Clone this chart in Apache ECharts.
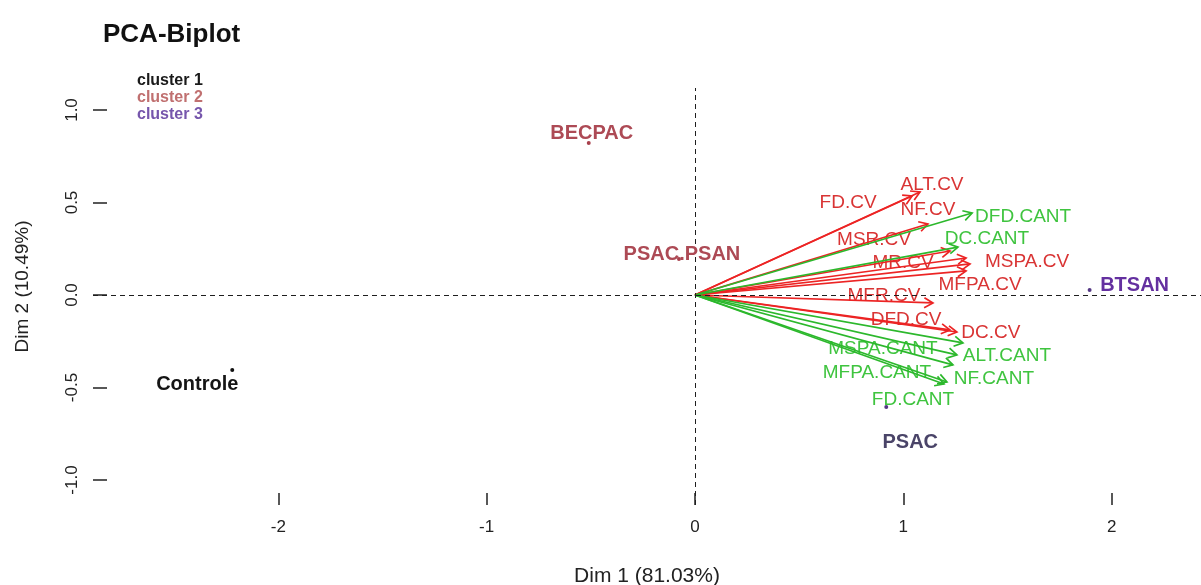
<!DOCTYPE html>
<html>
<head>
<meta charset="utf-8">
<script src="https://cdn.jsdelivr.net/npm/echarts@6/dist/echarts.min.js"></script>
<style>
  html, body { margin: 0; padding: 0; background: #ffffff; }
  #chart { width: 1201px; height: 585px; }
</style>
</head>
<body>
<div id="chart"></div>
<script>
// Variable loadings (arrows) on the first two principal dimensions
const variableNames = ['ALT.CV', 'FD.CV', 'NF.CV', 'MSR.CV', 'MR.CV', 'MSPA.CV', 'MFPA.CV', 'MFR.CV', 'DFD.CV', 'DC.CV',
  'DFD.CANT', 'DC.CANT', 'MSPA.CANT', 'ALT.CANT', 'MFPA.CANT', 'NF.CANT', 'FD.CANT'];
const variableDim1 = [1.080, 1.042, 1.118, 1.224, 1.301, 1.320, 1.301, 1.142, 1.224, 1.257,
  1.330, 1.262, 1.286, 1.257, 1.238, 1.209, 1.195];
const variableDim2 = [0.557, 0.535, 0.384, 0.238, 0.200, 0.168, 0.130, -0.043, -0.189, -0.200,
  0.443, 0.259, -0.259, -0.324, -0.378, -0.470, -0.481];
const variableGroup = ['CV', 'CV', 'CV', 'CV', 'CV', 'CV', 'CV', 'CV', 'CV', 'CV',
  'CANT', 'CANT', 'CANT', 'CANT', 'CANT', 'CANT', 'CANT'];

// Individuals (treatments) and their cluster membership
const individualNames = ['Controle', 'BECPAC', 'PSAC.PSAN', 'BTSAN', 'PSAC'];
const individualDim1 = [-2.221, -0.510, -0.077, 1.894, 0.918];
const individualDim2 = [-0.405, 0.822, 0.195, 0.027, -0.605];
const individualCluster = [1, 2, 2, 3, 3];
const clusterNames = ['cluster 1', 'cluster 2', 'cluster 3'];

// Axis ticks
const dim1Ticks = [-2, -1, 0, 1, 2];
const dim2Ticks = [-1, -0.5, 0, 0.5, 1];

// ---- styling / layout ----
const FONT = '"Liberation Sans", Arial, sans-serif';
const arrowColor = { CV: '#ec2424', CANT: '#2cb82c' };
const arrowLabelColor = { CV: '#d93434', CANT: '#3fc43f' };
const clusterPointColor = ['#111111', '#a8404c', '#553884'];
const clusterLegendColor = ['#1a1a1a', '#c07070', '#7656ac'];
const individualLabelColor = { 'Controle': '#151515', 'BECPAC': '#ad4a55', 'PSAC.PSAN': '#ad4a55', 'BTSAN': '#6430a0', 'PSAC': '#4a4468' };
// label placement relative to the arrow tip / point (pixels)
const variableLabelShift = {
  'ALT.CV': [12, -7], 'FD.CV': [-64, 7], 'NF.CV': [0, -14], 'MSR.CV': [-76, -11], 'MR.CV': [-63, 5],
  'MSPA.CV': [57, -2], 'MFPA.CV': [14, 14], 'MFR.CV': [-49, -7], 'DFD.CV': [-44, -10], 'DC.CV': [34, 1],
  'DFD.CANT': [51, 4], 'DC.CANT': [29, -8], 'MSPA.CANT': [-80, 6], 'ALT.CANT': [50, 1],
  'MFPA.CANT': [-76, 8], 'NF.CANT': [47, -3], 'FD.CANT': [-31, 16]
};
const individualLabelShift = {
  'Controle': [-35, 15], 'BECPAC': [3, -9], 'PSAC.PSAN': [3, -4], 'BTSAN': [45, -5], 'PSAC': [24, 36]
};

const chart = echarts.init(document.getElementById('chart'), null, { renderer: 'canvas' });

const clusterSeries = clusterNames.map((cname, ci) => ({
  name: cname,
  type: 'scatter',
  symbol: 'circle',
  symbolSize: 4,
  itemStyle: { color: clusterPointColor[ci], opacity: 1 },
  z: 5,
  data: individualNames
    .map((n, i) => ({ n, i }))
    .filter(d => individualCluster[d.i] === ci + 1)
    .map(d => ({
      name: d.n,
      value: [individualDim1[d.i], individualDim2[d.i]],
      label: {
        show: true,
        position: 'inside',
        formatter: '{b}',
        offset: individualLabelShift[d.n],
        color: individualLabelColor[d.n],
        fontFamily: FONT,
        fontWeight: 'bold',
        fontSize: 20
      }
    }))
}));

const arrowSeries = {
  type: 'custom',
  name: 'variables',
  coordinateSystem: 'cartesian2d',
  silent: true,
  z: 3,
  clip: false,
  data: variableNames.map((n, i) => [variableDim1[i], variableDim2[i], i]),
  renderItem(params, api) {
    const i = api.value(2);
    const name = variableNames[i];
    const grp = variableGroup[i];
    const o = api.coord([0, 0]);
    const p = api.coord([api.value(0), api.value(1)]);
    const ang = Math.atan2(p[1] - o[1], p[0] - o[0]);
    const L = 10, a = Math.PI / 6;
    const h1 = [p[0] - L * Math.cos(ang - a), p[1] - L * Math.sin(ang - a)];
    const h2 = [p[0] - L * Math.cos(ang + a), p[1] - L * Math.sin(ang + a)];
    const col = arrowColor[grp];
    const sh = variableLabelShift[name] || [0, 0];
    return {
      type: 'group',
      children: [
        { type: 'text', z2: 1, x: p[0] + sh[0], y: p[1] + sh[1],
          style: { text: name, fill: arrowLabelColor[grp], font: '19px ' + FONT, align: 'center', verticalAlign: 'middle' } },
        { type: 'line', z2: 2, shape: { x1: o[0], y1: o[1], x2: p[0], y2: p[1] },
          style: { stroke: col, lineWidth: 1.7 } },
        { type: 'polyline', z2: 2, shape: { points: [h1, p, h2] },
          style: { stroke: col, lineWidth: 1.7, fill: null } }
      ]
    };
  }
};

const refLines = {
  type: 'scatter',
  name: 'reference',
  data: [],
  silent: true,
  markLine: {
    silent: true,
    symbol: ['none', 'none'],
    label: { show: false },
    lineStyle: { color: '#1e1e1e', width: 1, type: [5, 4] },
    data: [{ xAxis: 0 }, { yAxis: 0 }]
  }
};

const option = {
  backgroundColor: '#ffffff',
  animation: false,
  title: {
    text: 'PCA-Biplot',
    left: 98,
    top: 17,
    textStyle: { fontFamily: FONT, fontWeight: 'bold', fontSize: 26, color: '#111111' }
  },
  legend: {
    orient: 'vertical',
    left: 127,
    top: 67,
    itemGap: 0,
    itemWidth: 0,
    itemHeight: 0,
    icon: 'circle',
    selectedMode: false,
    textStyle: { fontFamily: FONT, fontWeight: 'bold', fontSize: 16, lineHeight: 17 },
    data: clusterNames.map((c, ci) => ({ name: c, textStyle: { color: clusterLegendColor[ci] } }))
  },
  grid: { left: 93, right: 0, top: 88, bottom: 80, containLabel: false, outerBoundsMode: 'none' },
  xAxis: {
    type: 'value',
    min: -602 / 208.35,
    max: 506 / 208.35,
    name: 'Dim 1 (81.03%)',
    nameLocation: 'middle',
    nameGap: 61,
    nameTextStyle: { fontFamily: FONT, fontSize: 21, color: '#222222' },
    axisLine: { show: false, onZero: false },
    splitLine: { show: false },
    axisTick: { show: true, inside: true, length: 12, customValues: dim1Ticks, lineStyle: { color: '#222222', width: 1.5 } },
    axisLabel: { customValues: dim1Ticks, margin: 14, fontFamily: FONT, fontSize: 17, color: '#222222', formatter: v => String(v) }
  },
  yAxis: {
    type: 'value',
    min: -210 / 185,
    max: 207 / 185,
    name: 'Dim 2 (10.49%)',
    nameLocation: 'middle',
    nameGap: 61,
    nameTextStyle: { fontFamily: FONT, fontSize: 19, color: '#222222', padding: [0, 0, 0, 20] },
    axisLine: { show: false, onZero: false },
    splitLine: { show: false },
    axisTick: { show: true, inside: true, length: 14, customValues: dim2Ticks, lineStyle: { color: '#222222', width: 1.5 } },
    axisLabel: { customValues: dim2Ticks, rotate: 90, margin: 12, fontFamily: FONT, fontSize: 17, color: '#222222', formatter: v => v.toFixed(1) }
  },
  series: [refLines, arrowSeries, ...clusterSeries]
};

chart.setOption(option);
</script>
</body>
</html>
